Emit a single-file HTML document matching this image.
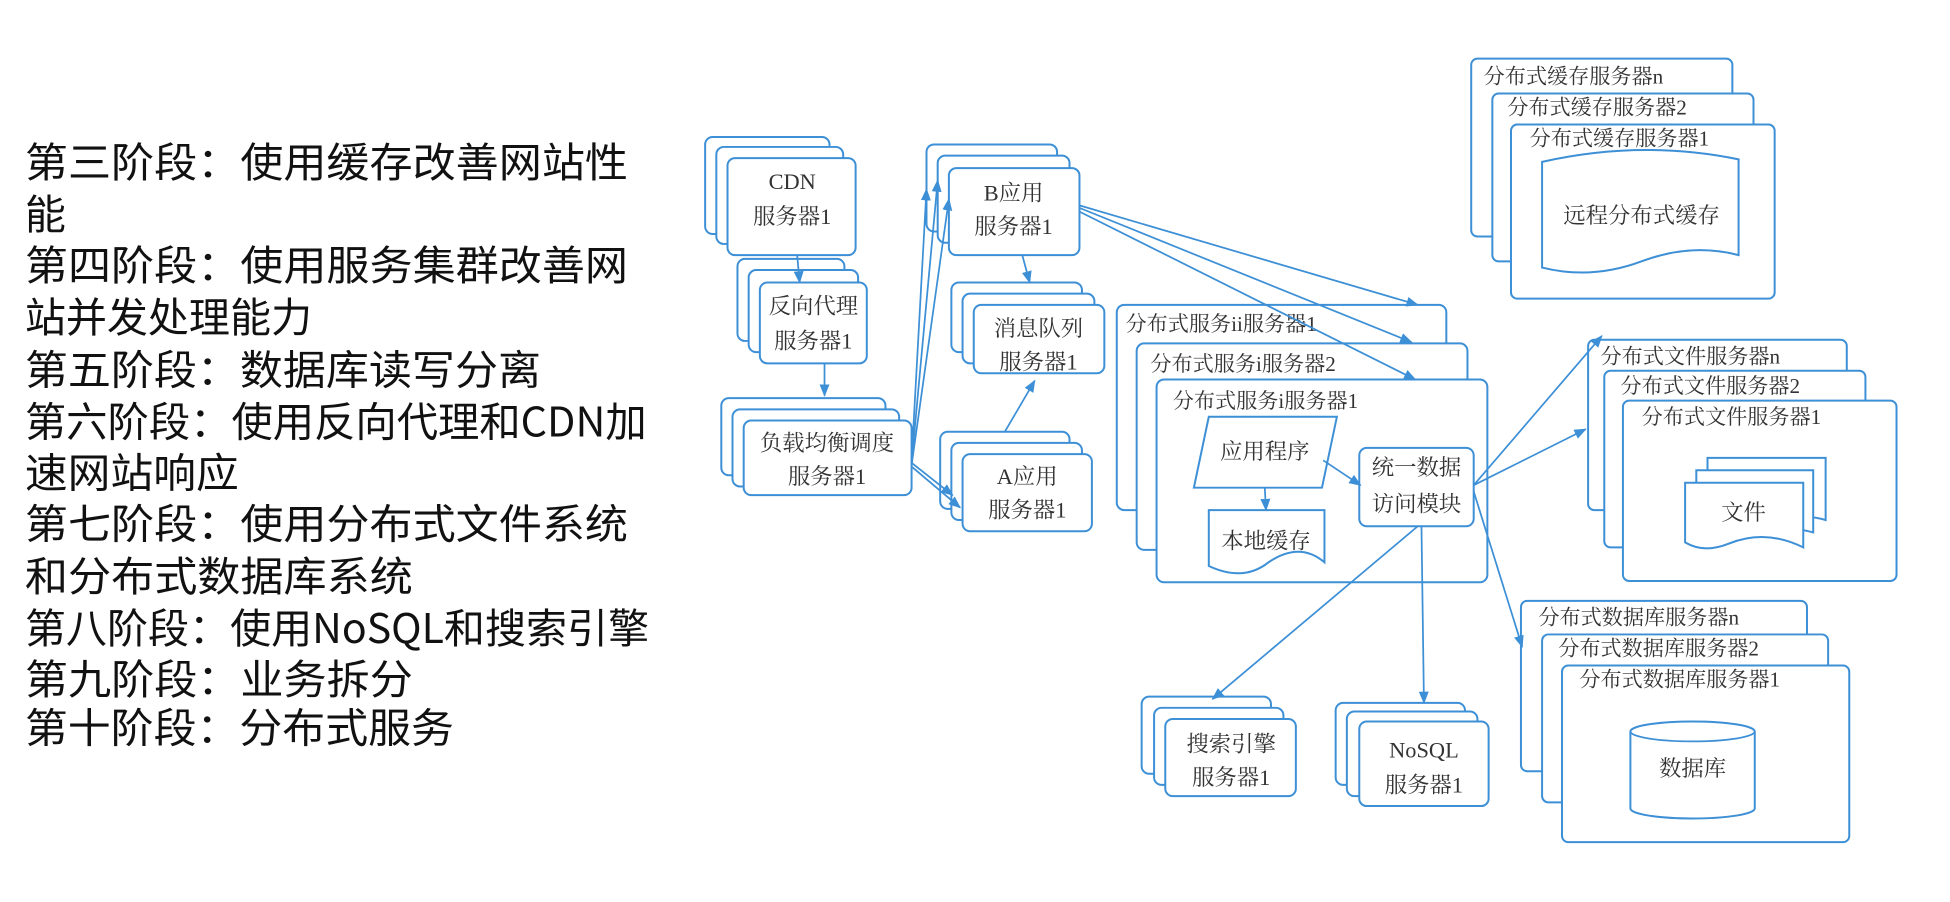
<!DOCTYPE html>
<html><head><meta charset="utf-8"><style>
html,body{margin:0;padding:0;background:#fff;width:1950px;height:902px;overflow:hidden}
svg{display:block}
.b{fill:#fff;stroke:#3d8fd6;stroke-width:1.6}
.l{stroke:#3d8fd6;stroke-width:1.4;fill:none;marker-end:url(#a)}
.t{font-family:"Liberation Serif","Noto Serif CJK SC",serif;font-size:18px;fill:#333;text-anchor:middle}
.s{font-family:"Liberation Serif","Noto Serif CJK SC",serif;font-size:17px;fill:#333}
.L{font-family:"Noto Sans CJK SC",sans-serif;font-size:33px;fill:#111}
</style></head><body>
<svg width="1950" height="902" viewBox="0 0 1568 725" xmlns="http://www.w3.org/2000/svg">
<defs><marker id="a" markerWidth="10" markerHeight="8" refX="9" refY="4" orient="auto" markerUnits="userSpaceOnUse"><path d="M0,0 L10,4 L0,8 z" fill="#3d8fd6"/></marker></defs>
<g class="L">
<text x="20" y="142" textLength="485" lengthAdjust="spacingAndGlyphs">第三阶段：使用缓存改善网站性</text>
<text x="20" y="184">能</text>
<text x="20" y="225" textLength="485" lengthAdjust="spacingAndGlyphs">第四阶段：使用服务集群改善网</text>
<text x="20" y="267">站并发处理能力</text>
<text x="20" y="309" textLength="415" lengthAdjust="spacingAndGlyphs">第五阶段：数据库读写分离</text>
<text x="20" y="351" textLength="500" lengthAdjust="spacingAndGlyphs">第六阶段：使用反向代理和CDN加</text>
<text x="20" y="392" textLength="172" lengthAdjust="spacingAndGlyphs">速网站响应</text>
<text x="20" y="433" textLength="485" lengthAdjust="spacingAndGlyphs">第七阶段：使用分布式文件系统</text>
<text x="20" y="475" textLength="312" lengthAdjust="spacingAndGlyphs">和分布式数据库系统</text>
<text x="20" y="517" textLength="502" lengthAdjust="spacingAndGlyphs">第八阶段：使用NoSQL和搜索引擎</text>
<text x="20" y="558" textLength="312" lengthAdjust="spacingAndGlyphs">第九阶段：业务拆分</text>
<text x="20" y="597" textLength="345" lengthAdjust="spacingAndGlyphs">第十阶段：分布式服务</text>
</g>
<rect class="b" x="567" y="110" width="100" height="78" rx="6"/><rect class="b" x="576" y="118" width="102" height="78" rx="6"/><rect class="b" x="585" y="127" width="103" height="78" rx="6"/>
<text class="t" x="637" y="152">CDN</text><text class="t" x="637" y="180">服务器1</text>
<rect class="b" x="593" y="208" width="86" height="66" rx="6"/><rect class="b" x="602" y="217" width="88" height="66" rx="6"/><rect class="b" x="611" y="227" width="86" height="65" rx="6"/>
<text class="t" x="654" y="252">反向代理</text><text class="t" x="654" y="280">服务器1</text>
<rect class="b" x="580" y="320" width="132" height="62" rx="6"/><rect class="b" x="589" y="329" width="134" height="62" rx="6"/><rect class="b" x="598" y="338" width="135" height="60" rx="6"/>
<text class="t" x="665" y="362">负载均衡调度</text><text class="t" x="665" y="389">服务器1</text>
<rect class="b" x="745" y="116" width="105" height="70" rx="6"/><rect class="b" x="754" y="125" width="106" height="70" rx="6"/><rect class="b" x="763" y="135" width="105" height="70" rx="6"/>
<text class="t" x="815" y="161">B应用</text><text class="t" x="815" y="188">服务器1</text>
<rect class="b" x="765" y="227" width="105" height="56" rx="6"/><rect class="b" x="774" y="236" width="106" height="56" rx="6"/><rect class="b" x="783" y="245" width="105" height="55" rx="6"/>
<text class="t" x="835" y="270">消息队列</text><text class="t" x="835" y="297">服务器1</text>
<rect class="b" x="756" y="347" width="104" height="62" rx="6"/><rect class="b" x="765" y="356" width="105" height="62" rx="6"/><rect class="b" x="774" y="365" width="104" height="62" rx="6"/>
<text class="t" x="826" y="389">A应用</text><text class="t" x="826" y="416">服务器1</text>
<rect class="b" x="898" y="245" width="265" height="165" rx="6"/>
<text class="s" x="905" y="266">分布式服务ii服务器1</text>
<rect class="b" x="914" y="276" width="266" height="166" rx="6"/>
<text class="s" x="925" y="298">分布式服务i服务器2</text>
<rect class="b" x="930" y="305" width="266" height="163" rx="6"/>
<text class="s" x="943" y="328">分布式服务i服务器1</text>
<path class="b" d="M972,335 L1075,335 L1063,392 L960,392 Z"/>
<text class="t" x="1017" y="369">应用程序</text>
<path class="b" d="M972,410 L1065,410 L1065,452 Q1045,435 1020,452 Q1000,468 972,455 Z"/>
<text class="t" x="1018" y="441">本地缓存</text>
<rect class="b" x="1093" y="360" width="92" height="63" rx="6"/>
<text class="t" x="1139" y="382">统一数据</text><text class="t" x="1139" y="411">访问模块</text>
<rect class="b" x="1183" y="47" width="210" height="143" rx="5"/><text class="s" x="1193" y="67">分布式缓存服务器n</text>
<rect class="b" x="1200" y="75" width="210" height="135" rx="5"/><text class="s" x="1212" y="92">分布式缓存服务器2</text>
<rect class="b" x="1215" y="100" width="212" height="140" rx="5"/><text class="s" x="1230" y="117">分布式缓存服务器1</text>
<path class="b" d="M1240,130 Q1320,112 1398,128 L1398,205 Q1360,195 1320,210 Q1280,225 1240,215 Z"/>
<text class="t" x="1320" y="179">远程分布式缓存</text>
<rect class="b" x="1277" y="273" width="208" height="137" rx="5"/><text class="s" x="1287" y="292">分布式文件服务器n</text>
<rect class="b" x="1290" y="298" width="210" height="142" rx="5"/><text class="s" x="1303" y="316">分布式文件服务器2</text>
<rect class="b" x="1305" y="322" width="220" height="145" rx="5"/><text class="s" x="1320" y="341">分布式文件服务器1</text>
<path class="b" d="M1373,368 L1468,368 L1468,418 Q1440,410 1373,418 Z"/>
<path class="b" d="M1364,378 L1458,378 L1458,428 Q1430,420 1364,428 Z"/>
<path class="b" d="M1355,388 L1450,388 L1450,440 Q1420,425 1390,437 Q1370,445 1355,436 Z"/>
<text class="t" x="1402" y="418">文件</text>
<rect class="b" x="1223" y="483" width="230" height="137" rx="5"/><text class="s" x="1237" y="502">分布式数据库服务器n</text>
<rect class="b" x="1240" y="510" width="230" height="135" rx="5"/><text class="s" x="1253" y="527">分布式数据库服务器2</text>
<rect class="b" x="1256" y="535" width="231" height="142" rx="5"/><text class="s" x="1270" y="552">分布式数据库服务器1</text>
<path class="b" d="M1311,588 L1311,650 A50,8 0 0 0 1411,650 L1411,588 A50,8 0 0 0 1311,588 Z"/>
<path d="M1311,588 A50,8 0 0 0 1411,588" fill="none" stroke="#3d8fd6" stroke-width="1.4"/>
<text class="t" x="1361" y="624">数据库</text>
<rect class="b" x="918" y="560" width="104" height="62" rx="6"/><rect class="b" x="928" y="569" width="104" height="62" rx="6"/><rect class="b" x="937" y="578" width="105" height="62" rx="6"/>
<text class="t" x="990" y="604">搜索引擎</text><text class="t" x="990" y="631">服务器1</text>
<rect class="b" x="1074" y="565" width="104" height="66" rx="6"/><rect class="b" x="1083" y="572" width="105" height="68" rx="6"/><rect class="b" x="1093" y="580" width="104" height="68" rx="6"/>
<text class="t" x="1145" y="609">NoSQL</text><text class="t" x="1145" y="637">服务器1</text>
<line class="l" x1="641" y1="205" x2="643" y2="227"/>
<line class="l" x1="663" y1="292" x2="663" y2="318"/>
<line class="l" x1="733" y1="370" x2="745" y2="152"/>
<line class="l" x1="733" y1="372" x2="754" y2="145"/>
<line class="l" x1="733" y1="374" x2="763" y2="160"/>
<line class="l" x1="733" y1="372" x2="766" y2="398"/>
<line class="l" x1="733" y1="375" x2="772" y2="408"/>
<line class="l" x1="822" y1="205" x2="828" y2="227"/>
<line class="l" x1="808" y1="347" x2="832" y2="306"/>
<line class="l" x1="868" y1="165" x2="1140" y2="245"/>
<line class="l" x1="868" y1="167" x2="1135" y2="275"/>
<line class="l" x1="868" y1="170" x2="1138" y2="305"/>
<line class="l" x1="1017" y1="392" x2="1018" y2="410"/>
<line class="l" x1="1064" y1="370" x2="1094" y2="390"/>
<line class="l" x1="1185" y1="390" x2="1288" y2="270"/>
<line class="l" x1="1185" y1="390" x2="1275" y2="345"/>
<line class="l" x1="1185" y1="395" x2="1224" y2="520"/>
<line class="l" x1="1140" y1="423" x2="975" y2="562"/>
<line class="l" x1="1143" y1="423" x2="1145" y2="565"/>
</svg>
</body></html>
